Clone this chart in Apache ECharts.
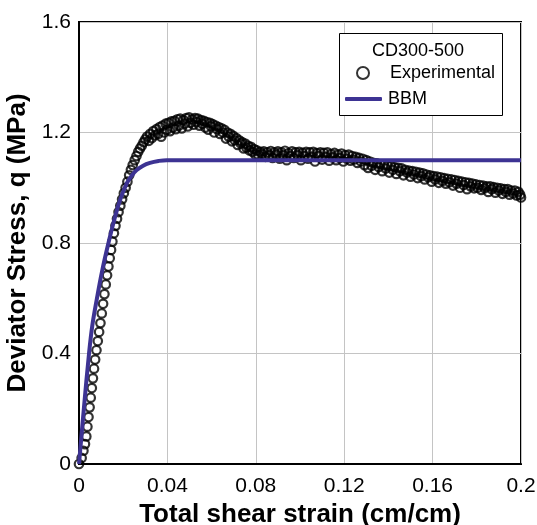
<!DOCTYPE html>
<html>
<head>
<meta charset="utf-8">
<script src="https://cdn.jsdelivr.net/npm/echarts@6/dist/echarts.min.js"></script>
<style>
  html, body { margin: 0; padding: 0; background: #fff; }
  #chart { width: 537px; height: 525px; }
</style>
</head>
<body>
<div id="chart"></div>
<script>
const xTicks = [0, 0.04, 0.08, 0.12, 0.16, 0.2];
const yTicks = [0, 0.4, 0.8, 1.2, 1.6];

// BBM model curve
const bbmStrain = [0, 0.0022, 0.0045, 0.006, 0.008, 0.0105, 0.0133, 0.016, 0.0186, 0.0216, 0.024, 0.0261, 0.029, 0.0321, 0.036, 0.0397, 0.05, 0.08, 0.12, 0.16, 0.2];
const bbmStress = [0, 0.2, 0.397, 0.5, 0.594, 0.7, 0.799, 0.885, 0.956, 1.016, 1.045, 1.064, 1.08, 1.09, 1.097, 1.1, 1.1, 1.1, 1.1, 1.1, 1.1];

// Experimental points
const expStrain = [
  0, 0.0012, 0.002, 0.0027, 0.0033, 0.0038, 0.0043, 0.0048, 0.0053, 0.0058,
  0.0063, 0.0068, 0.0073, 0.0079, 0.0085, 0.0091, 0.0097, 0.0103, 0.0109, 0.0115,
  0.0121, 0.0127, 0.0133, 0.0139, 0.0145, 0.0151, 0.0158, 0.0165, 0.0172, 0.0179,
  0.0187, 0.0195, 0.0203, 0.0211, 0.0219, 0.0227, 0.0235, 0.0243, 0.0252, 0.026,
  0.0268, 0.0276, 0.0284, 0.0292, 0.03, 0.0308, 0.0316, 0.0322, 0.033, 0.0336,
  0.0344, 0.035, 0.0358, 0.0365, 0.0372, 0.0378, 0.0385, 0.0392, 0.0398, 0.0405,
  0.0412, 0.0418, 0.0425, 0.0432, 0.0438, 0.0445, 0.0452, 0.0458, 0.0465, 0.0472,
  0.0478, 0.0485, 0.0492, 0.0498, 0.0505, 0.0512, 0.0518, 0.0525, 0.0532, 0.0538,
  0.0545, 0.0552, 0.0558, 0.0565, 0.0572, 0.0578, 0.0585, 0.0592, 0.0598, 0.0605,
  0.0612, 0.0618, 0.0625, 0.0632, 0.0638, 0.0645, 0.0652, 0.0658, 0.0665, 0.0672,
  0.0678, 0.0685, 0.0692, 0.0698, 0.0705, 0.0712, 0.0718, 0.0725, 0.0732, 0.0738,
  0.0745, 0.0752, 0.0758, 0.0765, 0.0772, 0.0778, 0.0785, 0.0792, 0.0798, 0.0805,
  0.0812, 0.082, 0.0828, 0.0836, 0.0844, 0.0852, 0.086, 0.0868, 0.0876, 0.0884,
  0.0892, 0.09, 0.0908, 0.0916, 0.0924, 0.0932, 0.094, 0.0948, 0.0956, 0.0964,
  0.0972, 0.098, 0.0988, 0.0996, 0.1004, 0.1012, 0.102, 0.1028, 0.1036, 0.1044,
  0.1052, 0.106, 0.1068, 0.1076, 0.1084, 0.1092, 0.11, 0.1108, 0.1116, 0.1124,
  0.1132, 0.114, 0.1148, 0.1156, 0.1164, 0.1172, 0.118, 0.1188, 0.1196, 0.1204,
  0.1212, 0.122, 0.1228, 0.1236, 0.1244, 0.1252, 0.126, 0.1268, 0.1276, 0.1284,
  0.1292, 0.13, 0.1308, 0.1316, 0.1324, 0.1332, 0.134, 0.1348, 0.1356, 0.1364,
  0.1372, 0.138, 0.1388, 0.1396, 0.1404, 0.1412, 0.142, 0.1428, 0.1436, 0.1444,
  0.1452, 0.146, 0.1468, 0.1476, 0.1484, 0.1492, 0.15, 0.1508, 0.1516, 0.1524,
  0.1532, 0.154, 0.1548, 0.1556, 0.1564, 0.1572, 0.158, 0.1588, 0.1596, 0.1604,
  0.1612, 0.162, 0.1628, 0.1636, 0.1644, 0.1652, 0.166, 0.1668, 0.1676, 0.1684,
  0.1692, 0.17, 0.1708, 0.1716, 0.1724, 0.1732, 0.174, 0.1748, 0.1756, 0.1764,
  0.1772, 0.178, 0.1788, 0.1796, 0.1804, 0.1812, 0.182, 0.1828, 0.1836, 0.1844,
  0.1852, 0.186, 0.1868, 0.1876, 0.1884, 0.1892, 0.19, 0.1908, 0.1916, 0.1924,
  0.1932, 0.194, 0.1948, 0.1956, 0.1964, 0.1972, 0.198, 0.1988, 0.1996, 0.2
];
const expStress = [
  0, 0.022, 0.048, 0.072, 0.1, 0.135, 0.17, 0.205, 0.24, 0.275,
  0.31, 0.345, 0.378, 0.412, 0.445, 0.478, 0.51, 0.545, 0.58, 0.615,
  0.65, 0.683, 0.715, 0.745, 0.775, 0.805, 0.835, 0.862, 0.888, 0.912,
  0.935, 0.958, 0.98, 1.0, 1.022, 1.045, 1.065, 1.082, 1.1, 1.115,
  1.13, 1.142, 1.152, 1.165, 1.175, 1.185, 1.17, 1.195, 1.18, 1.205,
  1.19, 1.212, 1.195, 1.22, 1.185, 1.225, 1.2, 1.232, 1.21, 1.235,
  1.205, 1.24, 1.218, 1.242, 1.212, 1.248, 1.225, 1.25, 1.215, 1.245,
  1.232, 1.252, 1.222, 1.255, 1.235, 1.248, 1.228, 1.252, 1.238, 1.25,
  1.225, 1.245, 1.232, 1.242, 1.218, 1.238, 1.21, 1.235, 1.222, 1.23,
  1.2, 1.225, 1.212, 1.22, 1.195, 1.215, 1.2, 1.21, 1.178, 1.2,
  1.185, 1.195, 1.168, 1.188, 1.172, 1.18, 1.155, 1.172, 1.16, 1.165,
  1.142, 1.16, 1.145, 1.152, 1.135, 1.148, 1.13, 1.14, 1.12, 1.135,
  1.118, 1.13, 1.122, 1.132, 1.112, 1.128, 1.118, 1.133, 1.108, 1.128,
  1.12, 1.132, 1.105, 1.128, 1.118, 1.134, 1.1, 1.125, 1.115, 1.132,
  1.108, 1.128, 1.118, 1.13, 1.1, 1.126, 1.115, 1.13, 1.105, 1.128,
  1.112, 1.13, 1.095, 1.125, 1.115, 1.128, 1.102, 1.126, 1.112, 1.128,
  1.098, 1.122, 1.11, 1.126, 1.1, 1.12, 1.108, 1.124, 1.095, 1.118,
  1.105, 1.12, 1.098, 1.115, 1.102, 1.112, 1.09, 1.108, 1.095, 1.105,
  1.082, 1.1, 1.072, 1.095, 1.08, 1.09, 1.065, 1.088, 1.075, 1.085,
  1.06, 1.082, 1.07, 1.08, 1.055, 1.078, 1.065, 1.075, 1.05, 1.072,
  1.06, 1.07, 1.045, 1.065, 1.055, 1.062, 1.04, 1.06, 1.048, 1.058,
  1.035, 1.055, 1.042, 1.052, 1.03, 1.048, 1.038, 1.045, 1.022, 1.042,
  1.03, 1.04, 1.018, 1.038, 1.025, 1.035, 1.015, 1.032, 1.02, 1.03,
  1.008, 1.028, 1.015, 1.025, 1.0, 1.022, 1.01, 1.02, 0.995, 1.018,
  1.005, 1.015, 0.998, 1.012, 1.0, 1.01, 0.992, 1.008, 0.998, 1.005,
  0.985, 1.005, 0.995, 1.002, 0.982, 1.0, 0.99, 0.998, 0.978, 0.995,
  0.985, 0.995, 0.975, 0.99, 0.98, 0.99, 0.972, 0.985, 0.975, 0.965
];

const expData = expStrain.map((x, i) => [x, expStress[i]]);
const bbmData = bbmStrain.map((x, i) => [x, bbmStress[i]]);

const font = "'Liberation Sans', Arial, sans-serif";
const chart = echarts.init(document.getElementById("chart"), null, { renderer: "canvas" });

chart.setOption({
  animation: false,
  grid: {
    left: 79, right: 16, top: 22, bottom: 61,
    outerBoundsMode: "none",
    show: true, borderColor: "#000", borderWidth: 2, backgroundColor: "transparent",
  },
  xAxis: {
    type: "value",
    min: xTicks[0], max: xTicks[xTicks.length - 1], interval: 0.04,
    name: "Total shear strain (cm/cm)",
    nameLocation: "middle", nameGap: 34,
    nameTextStyle: { fontFamily: font, fontSize: 26, fontWeight: "bold", color: "#000" },
    axisLine: { lineStyle: { color: "#000", width: 2 } },
    axisTick: { show: false },
    axisLabel: { fontFamily: font, fontSize: 21, color: "#000", margin: 12 },
    splitLine: { lineStyle: { color: "#c4c4c4", width: 1 } },
  },
  yAxis: {
    type: "value",
    min: yTicks[0], max: yTicks[yTicks.length - 1], interval: 0.4,
    name: "Deviator Stress, q (MPa)",
    nameLocation: "middle", nameGap: 41,
    nameTextStyle: { fontFamily: font, fontSize: 26, fontWeight: "bold", color: "#000" },
    axisLine: { lineStyle: { color: "#000", width: 2 } },
    axisTick: { show: false },
    axisLabel: { fontFamily: font, fontSize: 21, color: "#000", margin: 8 },
    splitLine: { lineStyle: { color: "#c4c4c4", width: 1 } },
  },
  graphic: [
    {
      type: "rect", left: 339, top: 33, z: 5,
      shape: { width: 163, height: 82 },
      style: { fill: "#fff", stroke: "#000", lineWidth: 1 },
    },
    {
      type: "text", left: 372, top: 42, z: 6,
      style: { text: "CD300-500", fontFamily: font, fontSize: 18, fill: "#000" },
    },
  ],
  legend: [
    {
      data: [{ name: "Experimental", icon: "circle", itemStyle: { color: "#fff", borderColor: "#000", borderWidth: 2 } }],
      left: 356, top: 64, z: 6, padding: 0,
      itemWidth: 12, itemHeight: 12,
      textStyle: { fontFamily: font, fontSize: 18, color: "#000", padding: [0, 0, 0, 16] },
      selectedMode: false,
    },
    {
      data: [{ name: "BBM", icon: "roundRect", itemStyle: { color: "#3d3393" } }],
      left: 345, top: 90, z: 6, padding: 0,
      itemWidth: 37, itemHeight: 4,
      textStyle: { fontFamily: font, fontSize: 18, color: "#000", padding: [0, 0, 0, 1] },
      selectedMode: false,
    },
  ],
  series: [
    {
      name: "Experimental",
      type: "scatter",
      data: expData,
      symbol: "circle",
      symbolSize: 8.5,
      itemStyle: { color: "rgba(255,255,255,0)", borderColor: "#000", borderWidth: 2.2 },
      z: 2,
    },
    {
      name: "BBM",
      type: "line",
      data: bbmData,
      smooth: 0.4,
      showSymbol: false,
      lineStyle: { color: "#3d3393", width: 4, join: "round" },
      itemStyle: { color: "#3d3393" },
      z: 3,
    },
  ],
});
</script>
</body>
</html>
